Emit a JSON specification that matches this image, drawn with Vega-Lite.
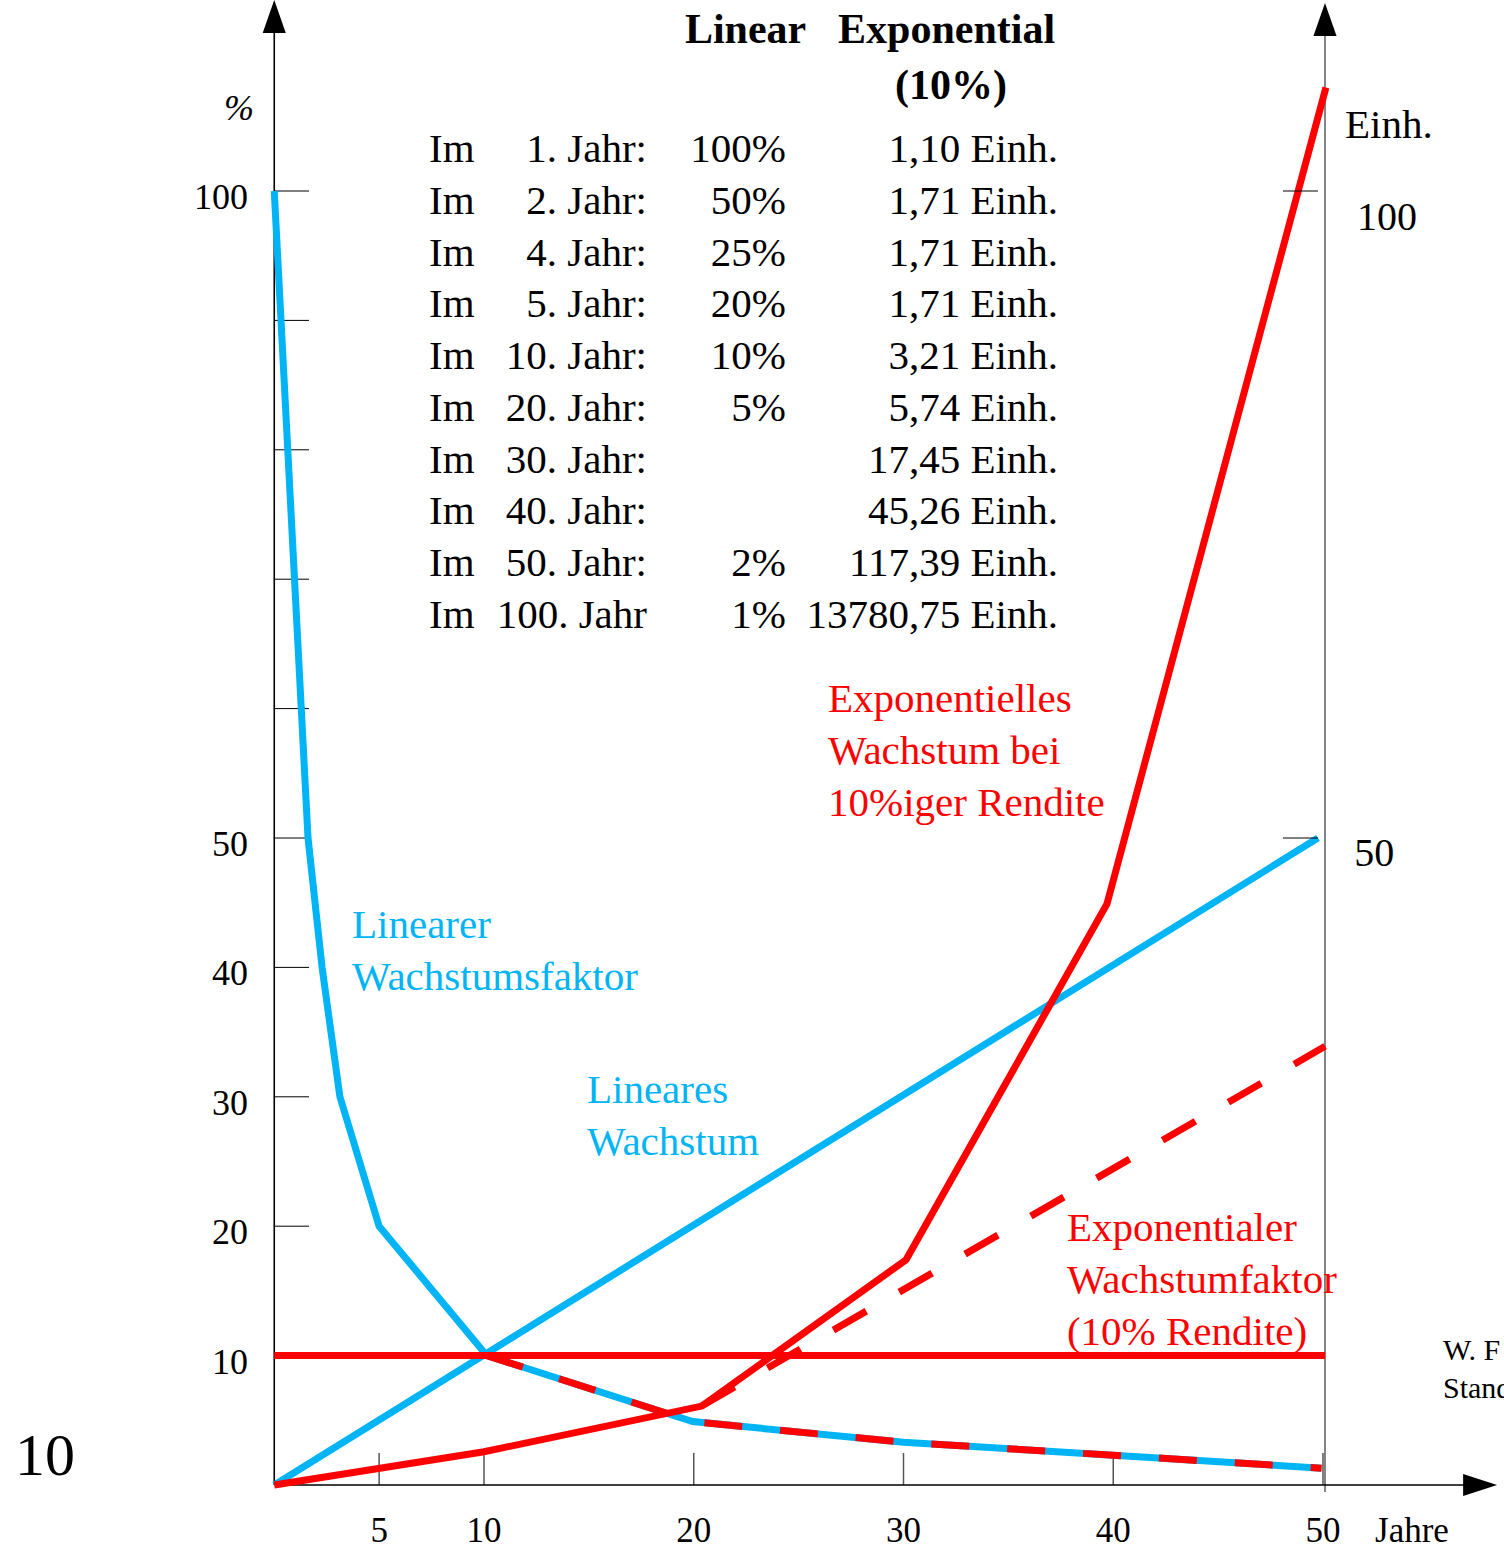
{
  "$schema": "https://vega.github.io/schema/vega-lite/v6.json",
  "width": 1504,
  "height": 1550,
  "padding": 0,
  "autosize": {"type": "none"},
  "background": "white",
  "config": {"view": {"stroke": null}, "text": {"font": "Liberation Serif", "baseline": "alphabetic"}},
  "datasets": {
    "kurven": [
      {"kurve": "linear_faktor", "jahr": 0, "wert": 100},
      {"kurve": "linear_faktor", "jahr": 1.61, "wert": 50},
      {"kurve": "linear_faktor", "jahr": 2.28, "wert": 40},
      {"kurve": "linear_faktor", "jahr": 3.13, "wert": 30},
      {"kurve": "linear_faktor", "jahr": 5, "wert": 20},
      {"kurve": "linear_faktor", "jahr": 10.13, "wert": 10},
      {"kurve": "linear_faktor", "jahr": 19.95, "wert": 4.9},
      {"kurve": "linear_faktor", "jahr": 30, "wert": 3.3},
      {"kurve": "linear_faktor", "jahr": 40, "wert": 2.3},
      {"kurve": "linear_faktor", "jahr": 49.93, "wert": 1.3},
      {"kurve": "linear_wachstum", "jahr": 0, "wert": 0},
      {"kurve": "linear_wachstum", "jahr": 49.76, "wert": 50},
      {"kurve": "exp_faktor", "jahr": 0, "wert": 10},
      {"kurve": "exp_faktor", "jahr": 50.1, "wert": 10},
      {"kurve": "exp_wachstum", "jahr": 0, "wert": 0},
      {"kurve": "exp_wachstum", "jahr": 10, "wert": 2.57},
      {"kurve": "exp_wachstum", "jahr": 20.38, "wert": 6.1},
      {"kurve": "exp_wachstum", "jahr": 30.12, "wert": 17.4},
      {"kurve": "exp_wachstum", "jahr": 39.7, "wert": 44.9},
      {"kurve": "exp_wachstum", "jahr": 50.14, "wert": 108},
      {"kurve": "exp_gestrichelt_a", "jahr": 10.13, "wert": 10},
      {"kurve": "exp_gestrichelt_a", "jahr": 19.95, "wert": 4.9},
      {"kurve": "exp_gestrichelt_a", "jahr": 30, "wert": 3.3},
      {"kurve": "exp_gestrichelt_a", "jahr": 40, "wert": 2.3},
      {"kurve": "exp_gestrichelt_a", "jahr": 49.93, "wert": 1.3},
      {"kurve": "exp_gestrichelt_b", "jahr": 20.38, "wert": 6.1},
      {"kurve": "exp_gestrichelt_b", "jahr": 50.1, "wert": 33.9}
    ],
    "yticks": [{"wert": 10}, {"wert": 20}, {"wert": 30}, {"wert": 40}, {"wert": 50}, {"wert": 60}, {"wert": 70}, {"wert": 80}, {"wert": 90}, {"wert": 100}],
    "ylabels": [{"wert": 10}, {"wert": 20}, {"wert": 30}, {"wert": 40}, {"wert": 50}, {"wert": 100}],
    "rticks": [{"wert": 50}, {"wert": 100}],
    "xticks": [{"jahr": 5}, {"jahr": 10}, {"jahr": 20}, {"jahr": 30}, {"jahr": 40}, {"jahr": 50}],
    "tabelle": [
      {"zeile": 1, "jahr": "1. Jahr:", "linear": "100%", "exponentiell": "1,10 Einh."},
      {"zeile": 2, "jahr": "2. Jahr:", "linear": "50%", "exponentiell": "1,71 Einh."},
      {"zeile": 3, "jahr": "4. Jahr:", "linear": "25%", "exponentiell": "1,71 Einh."},
      {"zeile": 4, "jahr": "5. Jahr:", "linear": "20%", "exponentiell": "1,71 Einh."},
      {"zeile": 5, "jahr": "10. Jahr:", "linear": "10%", "exponentiell": "3,21 Einh."},
      {"zeile": 6, "jahr": "20. Jahr:", "linear": "5%", "exponentiell": "5,74 Einh."},
      {"zeile": 7, "jahr": "30. Jahr:", "linear": "", "exponentiell": "17,45 Einh."},
      {"zeile": 8, "jahr": "40. Jahr:", "linear": "", "exponentiell": "45,26 Einh."},
      {"zeile": 9, "jahr": "50. Jahr:", "linear": "2%", "exponentiell": "117,39 Einh."},
      {"zeile": 10, "jahr": "100. Jahr", "linear": "1%", "exponentiell": "13780,75 Einh."}
    ],
    "eins": [{}]
  },
  "layer": [
    {
      "data": {"name": "yticks"},
      "mark": {"type": "rule", "color": "black", "strokeWidth": 1},
      "encoding": {
        "x": {"datum": 0, "type": "quantitative", "scale": {"domain": [0, 50], "range": [274.25, 1323], "nice": false, "zero": false}, "axis": null},
        "x2": {"datum": 1.657},
        "y": {"field": "wert", "type": "quantitative", "scale": {"domain": [0, 100], "range": [1485, 191], "nice": false, "zero": false}, "axis": null}
      }
    },
    {
      "data": {"name": "xticks"},
      "mark": {"type": "rule", "color": "#555555", "strokeWidth": 1.5},
      "encoding": {
        "x": {"field": "jahr", "type": "quantitative", "scale": {"domain": [0, 50], "range": [274.25, 1323], "nice": false, "zero": false}, "axis": null},
        "y": {"datum": 0, "type": "quantitative", "scale": {"domain": [0, 100], "range": [1485, 191], "nice": false, "zero": false}, "axis": null},
        "y2": {"datum": 2.47}
      }
    },
    {
      "data": {"name": "eins"},
      "mark": {"type": "rule", "color": "black", "strokeWidth": 1.6},
      "encoding": {
        "x": {"datum": 0, "type": "quantitative", "scale": {"domain": [0, 50], "range": [274.25, 1323], "nice": false, "zero": false}, "axis": null},
        "y": {"datum": 0, "type": "quantitative", "scale": {"domain": [0, 100], "range": [1485, 191], "nice": false, "zero": false}, "axis": null},
        "y2": {"datum": 112.5}
      }
    },
    {
      "data": {"name": "eins"},
      "mark": {"type": "rule", "color": "#666666", "strokeWidth": 1.6},
      "encoding": {
        "x": {"datum": 50.095, "type": "quantitative", "scale": {"domain": [0, 50], "range": [274.25, 1323], "nice": false, "zero": false}, "axis": null},
        "y": {"datum": -0.54, "type": "quantitative", "scale": {"domain": [0, 100], "range": [1485, 191], "nice": false, "zero": false}, "axis": null},
        "y2": {"datum": 112}
      }
    },
    {
      "data": {"name": "eins"},
      "mark": {"type": "rule", "color": "black", "strokeWidth": 1.6},
      "encoding": {
        "x": {"datum": 0, "type": "quantitative", "scale": {"domain": [0, 50], "range": [274.25, 1323], "nice": false, "zero": false}, "axis": null},
        "x2": {"datum": 56.8},
        "y": {"datum": 0, "type": "quantitative", "scale": {"domain": [0, 100], "range": [1485, 191], "nice": false, "zero": false}, "axis": null}
      }
    },
    {
      "data": {"name": "eins"},
      "mark": {"type": "point", "shape": "M0,-1L0.7,1L-0.7,1Z", "size": 1089, "filled": true, "color": "black", "opacity": 1, "strokeWidth": 0},
      "encoding": {
        "x": {"datum": 0, "type": "quantitative", "scale": {"domain": [0, 50], "range": [274.25, 1323], "nice": false, "zero": false}, "axis": null},
        "y": {"datum": 113.48, "type": "quantitative", "scale": {"domain": [0, 100], "range": [1485, 191], "nice": false, "zero": false}, "axis": null}
      }
    },
    {
      "data": {"name": "eins"},
      "mark": {"type": "point", "shape": "M0,-1L0.7,1L-0.7,1Z", "size": 1089, "filled": true, "color": "black", "opacity": 1, "strokeWidth": 0},
      "encoding": {
        "x": {"datum": 50.095, "type": "quantitative", "scale": {"domain": [0, 50], "range": [274.25, 1323], "nice": false, "zero": false}, "axis": null},
        "y": {"datum": 113.25, "type": "quantitative", "scale": {"domain": [0, 100], "range": [1485, 191], "nice": false, "zero": false}, "axis": null}
      }
    },
    {
      "data": {"name": "eins"},
      "mark": {"type": "point", "shape": "M1,0L-1,0.65L-1,-0.65Z", "size": 1156, "filled": true, "color": "black", "opacity": 1, "strokeWidth": 0},
      "encoding": {
        "x": {"datum": 57.49, "type": "quantitative", "scale": {"domain": [0, 50], "range": [274.25, 1323], "nice": false, "zero": false}, "axis": null},
        "y": {"datum": 0, "type": "quantitative", "scale": {"domain": [0, 100], "range": [1485, 191], "nice": false, "zero": false}, "axis": null}
      }
    },
    {
      "data": {"name": "kurven"},
      "transform": [{"filter": {"field": "kurve", "oneOf": ["linear_faktor", "linear_wachstum"]}}],
      "mark": {"type": "line", "color": "#00B4F5", "strokeWidth": 7},
      "encoding": {
        "x": {"field": "jahr", "type": "quantitative", "scale": {"domain": [0, 50], "range": [274.25, 1323], "nice": false, "zero": false}, "axis": null},
        "y": {"field": "wert", "type": "quantitative", "scale": {"domain": [0, 100], "range": [1485, 191], "nice": false, "zero": false}, "axis": null},
        "detail": {"field": "kurve"}
      }
    },
    {
      "data": {"name": "kurven"},
      "transform": [{"filter": {"field": "kurve", "oneOf": ["exp_faktor", "exp_wachstum"]}}],
      "mark": {"type": "line", "color": "#FF0000", "strokeWidth": 7},
      "encoding": {
        "x": {"field": "jahr", "type": "quantitative", "scale": {"domain": [0, 50], "range": [274.25, 1323], "nice": false, "zero": false}, "axis": null},
        "y": {"field": "wert", "type": "quantitative", "scale": {"domain": [0, 100], "range": [1485, 191], "nice": false, "zero": false}, "axis": null},
        "detail": {"field": "kurve"}
      }
    },
    {
      "data": {"name": "kurven"},
      "transform": [{"filter": {"field": "kurve", "oneOf": ["exp_gestrichelt_a", "exp_gestrichelt_b"]}}],
      "mark": {"type": "line", "color": "#FF0000", "strokeWidth": 7, "strokeDash": [38, 38]},
      "encoding": {
        "x": {"field": "jahr", "type": "quantitative", "scale": {"domain": [0, 50], "range": [274.25, 1323], "nice": false, "zero": false}, "axis": null},
        "y": {"field": "wert", "type": "quantitative", "scale": {"domain": [0, 100], "range": [1485, 191], "nice": false, "zero": false}, "axis": null},
        "detail": {"field": "kurve"}
      }
    },
    {
      "data": {"name": "rticks"},
      "mark": {"type": "rule", "color": "black", "strokeWidth": 1},
      "encoding": {
        "x": {"datum": 48.09, "type": "quantitative", "scale": {"domain": [0, 50], "range": [274.25, 1323], "nice": false, "zero": false}, "axis": null},
        "x2": {"datum": 49.76},
        "y": {"field": "wert", "type": "quantitative", "scale": {"domain": [0, 100], "range": [1485, 191], "nice": false, "zero": false}, "axis": null}
      }
    },
    {
      "data": {"name": "ylabels"},
      "mark": {"type": "text", "fontSize": 36, "align": "right", "dy": 18, "color": "black"},
      "encoding": {
        "x": {"datum": -1.25, "type": "quantitative", "scale": {"domain": [0, 50], "range": [274.25, 1323], "nice": false, "zero": false}, "axis": null},
        "y": {"field": "wert", "type": "quantitative", "scale": {"domain": [0, 100], "range": [1485, 191], "nice": false, "zero": false}, "axis": null},
        "text": {"field": "wert", "type": "quantitative", "format": "d"}
      }
    },
    {
      "data": {"name": "xticks"},
      "mark": {"type": "text", "fontSize": 35, "align": "center", "color": "black"},
      "encoding": {
        "x": {"field": "jahr", "type": "quantitative", "scale": {"domain": [0, 50], "range": [274.25, 1323], "nice": false, "zero": false}, "axis": null},
        "y": {"datum": -4.405, "type": "quantitative", "scale": {"domain": [0, 100], "range": [1485, 191], "nice": false, "zero": false}, "axis": null},
        "text": {"field": "jahr", "type": "quantitative", "format": "d"}
      }
    },
    {
      "data": {"name": "eins"},
      "mark": {"type": "text", "fontSize": 35, "align": "left", "color": "black", "text": "Jahre"},
      "encoding": {
        "x": {"datum": 52.48, "type": "quantitative", "scale": {"domain": [0, 50], "range": [274.25, 1323], "nice": false, "zero": false}, "axis": null},
        "y": {"datum": -4.405, "type": "quantitative", "scale": {"domain": [0, 100], "range": [1485, 191], "nice": false, "zero": false}, "axis": null}
      }
    },
    {
      "data": {"name": "eins"},
      "mark": {"type": "text", "fontSize": 36, "fontStyle": "italic", "align": "center", "color": "black", "text": "%"},
      "encoding": {
        "x": {"datum": -1.68, "type": "quantitative", "scale": {"domain": [0, 50], "range": [274.25, 1323], "nice": false, "zero": false}, "axis": null},
        "y": {"datum": 105.49, "type": "quantitative", "scale": {"domain": [0, 100], "range": [1485, 191], "nice": false, "zero": false}, "axis": null}
      }
    },
    {
      "data": {"name": "eins"},
      "mark": {"type": "text", "fontSize": 41, "align": "left", "color": "black", "text": "Einh."},
      "encoding": {
        "x": {"datum": 51.05, "type": "quantitative", "scale": {"domain": [0, 50], "range": [274.25, 1323], "nice": false, "zero": false}, "axis": null},
        "y": {"datum": 104.1, "type": "quantitative", "scale": {"domain": [0, 100], "range": [1485, 191], "nice": false, "zero": false}, "axis": null}
      }
    },
    {
      "data": {"name": "eins"},
      "mark": {"type": "text", "fontSize": 40, "align": "left", "color": "black", "text": "100"},
      "encoding": {
        "x": {"datum": 51.62, "type": "quantitative", "scale": {"domain": [0, 50], "range": [274.25, 1323], "nice": false, "zero": false}, "axis": null},
        "y": {"datum": 96.99, "type": "quantitative", "scale": {"domain": [0, 100], "range": [1485, 191], "nice": false, "zero": false}, "axis": null}
      }
    },
    {
      "data": {"name": "eins"},
      "mark": {"type": "text", "fontSize": 40, "align": "left", "color": "black", "text": "50"},
      "encoding": {
        "x": {"datum": 51.49, "type": "quantitative", "scale": {"domain": [0, 50], "range": [274.25, 1323], "nice": false, "zero": false}, "axis": null},
        "y": {"datum": 47.84, "type": "quantitative", "scale": {"domain": [0, 100], "range": [1485, 191], "nice": false, "zero": false}, "axis": null}
      }
    },
    {
      "data": {"name": "eins"},
      "mark": {"type": "text", "fontSize": 60, "align": "left", "color": "black", "text": "10"},
      "encoding": {
        "x": {"datum": -12.36, "type": "quantitative", "scale": {"domain": [0, 50], "range": [274.25, 1323], "nice": false, "zero": false}, "axis": null},
        "y": {"datum": 0.77, "type": "quantitative", "scale": {"domain": [0, 100], "range": [1485, 191], "nice": false, "zero": false}, "axis": null}
      }
    },
    {
      "data": {"name": "eins"},
      "mark": {"type": "text", "fontSize": 30, "align": "left", "color": "black", "lineBreak": "\n", "lineHeight": 38, "text": "W. F\nStand"},
      "encoding": {
        "x": {"datum": 55.72, "type": "quantitative", "scale": {"domain": [0, 50], "range": [274.25, 1323], "nice": false, "zero": false}, "axis": null},
        "y": {"datum": 9.66, "type": "quantitative", "scale": {"domain": [0, 100], "range": [1485, 191], "nice": false, "zero": false}, "axis": null}
      }
    },
    {
      "data": {"name": "eins"},
      "mark": {"type": "text", "fontSize": 42, "fontWeight": "bold", "align": "left", "color": "black", "text": "Linear"},
      "encoding": {
        "x": {"datum": 19.58, "type": "quantitative", "scale": {"domain": [0, 50], "range": [274.25, 1323], "nice": false, "zero": false}, "axis": null},
        "y": {"datum": 111.46, "type": "quantitative", "scale": {"domain": [0, 100], "range": [1485, 191], "nice": false, "zero": false}, "axis": null}
      }
    },
    {
      "data": {"name": "eins"},
      "mark": {"type": "text", "fontSize": 42, "fontWeight": "bold", "align": "left", "color": "black", "text": "Exponential"},
      "encoding": {
        "x": {"datum": 26.88, "type": "quantitative", "scale": {"domain": [0, 50], "range": [274.25, 1323], "nice": false, "zero": false}, "axis": null},
        "y": {"datum": 111.46, "type": "quantitative", "scale": {"domain": [0, 100], "range": [1485, 191], "nice": false, "zero": false}, "axis": null}
      }
    },
    {
      "data": {"name": "eins"},
      "mark": {"type": "text", "fontSize": 42, "fontWeight": "bold", "align": "center", "color": "black", "text": "(10%)"},
      "encoding": {
        "x": {"datum": 32.26, "type": "quantitative", "scale": {"domain": [0, 50], "range": [274.25, 1323], "nice": false, "zero": false}, "axis": null},
        "y": {"datum": 107.11, "type": "quantitative", "scale": {"domain": [0, 100], "range": [1485, 191], "nice": false, "zero": false}, "axis": null}
      }
    },
    {
      "data": {"name": "tabelle"},
      "mark": {"type": "text", "fontSize": 41, "align": "left", "color": "black", "text": "Im"},
      "encoding": {
        "x": {"datum": 7.378, "type": "quantitative", "scale": {"domain": [0, 50], "range": [274.25, 1323], "nice": false, "zero": false}, "axis": null},
        "y": {"field": "zeile", "type": "quantitative", "scale": {"domain": [1, 10], "range": [162, 628], "nice": false, "zero": false}, "axis": null}
      }
    },
    {
      "data": {"name": "tabelle"},
      "mark": {"type": "text", "fontSize": 41, "align": "right", "color": "black"},
      "encoding": {
        "x": {"datum": 17.77, "type": "quantitative", "scale": {"domain": [0, 50], "range": [274.25, 1323], "nice": false, "zero": false}, "axis": null},
        "y": {"field": "zeile", "type": "quantitative", "scale": {"domain": [1, 10], "range": [162, 628], "nice": false, "zero": false}, "axis": null},
        "text": {"field": "jahr", "type": "nominal"}
      }
    },
    {
      "data": {"name": "tabelle"},
      "mark": {"type": "text", "fontSize": 41, "align": "right", "color": "black"},
      "encoding": {
        "x": {"datum": 24.39, "type": "quantitative", "scale": {"domain": [0, 50], "range": [274.25, 1323], "nice": false, "zero": false}, "axis": null},
        "y": {"field": "zeile", "type": "quantitative", "scale": {"domain": [1, 10], "range": [162, 628], "nice": false, "zero": false}, "axis": null},
        "text": {"field": "linear", "type": "nominal"}
      }
    },
    {
      "data": {"name": "tabelle"},
      "mark": {"type": "text", "fontSize": 41, "align": "right", "color": "black"},
      "encoding": {
        "x": {"datum": 37.37, "type": "quantitative", "scale": {"domain": [0, 50], "range": [274.25, 1323], "nice": false, "zero": false}, "axis": null},
        "y": {"field": "zeile", "type": "quantitative", "scale": {"domain": [1, 10], "range": [162, 628], "nice": false, "zero": false}, "axis": null},
        "text": {"field": "exponentiell", "type": "nominal"}
      }
    },
    {
      "data": {"name": "eins"},
      "mark": {"type": "text", "fontSize": 41, "align": "left", "color": "#00B4F5", "lineBreak": "\n", "lineHeight": 52, "text": "Linearer\nWachstumsfaktor"},
      "encoding": {
        "x": {"datum": 3.707, "type": "quantitative", "scale": {"domain": [0, 50], "range": [274.25, 1323], "nice": false, "zero": false}, "axis": null},
        "y": {"datum": 42.27, "type": "quantitative", "scale": {"domain": [0, 100], "range": [1485, 191], "nice": false, "zero": false}, "axis": null}
      }
    },
    {
      "data": {"name": "eins"},
      "mark": {"type": "text", "fontSize": 41, "align": "left", "color": "#00B4F5", "lineBreak": "\n", "lineHeight": 52, "text": "Lineares\nWachstum"},
      "encoding": {
        "x": {"datum": 14.91, "type": "quantitative", "scale": {"domain": [0, 50], "range": [274.25, 1323], "nice": false, "zero": false}, "axis": null},
        "y": {"datum": 29.52, "type": "quantitative", "scale": {"domain": [0, 100], "range": [1485, 191], "nice": false, "zero": false}, "axis": null}
      }
    },
    {
      "data": {"name": "eins"},
      "mark": {"type": "text", "fontSize": 41, "align": "left", "color": "#FF0000", "lineBreak": "\n", "lineHeight": 52, "text": "Exponentielles\nWachstum bei\n10%iger Rendite"},
      "encoding": {
        "x": {"datum": 26.4, "type": "quantitative", "scale": {"domain": [0, 50], "range": [274.25, 1323], "nice": false, "zero": false}, "axis": null},
        "y": {"datum": 59.74, "type": "quantitative", "scale": {"domain": [0, 100], "range": [1485, 191], "nice": false, "zero": false}, "axis": null}
      }
    },
    {
      "data": {"name": "eins"},
      "mark": {"type": "text", "fontSize": 41, "align": "left", "color": "#FF0000", "lineBreak": "\n", "lineHeight": 52, "text": "Exponentialer\nWachstumfaktor\n(10% Rendite)"},
      "encoding": {
        "x": {"datum": 37.79, "type": "quantitative", "scale": {"domain": [0, 50], "range": [274.25, 1323], "nice": false, "zero": false}, "axis": null},
        "y": {"datum": 18.86, "type": "quantitative", "scale": {"domain": [0, 100], "range": [1485, 191], "nice": false, "zero": false}, "axis": null}
      }
    }
  ],
  "resolve": {"scale": {"y": "independent"}}
}
